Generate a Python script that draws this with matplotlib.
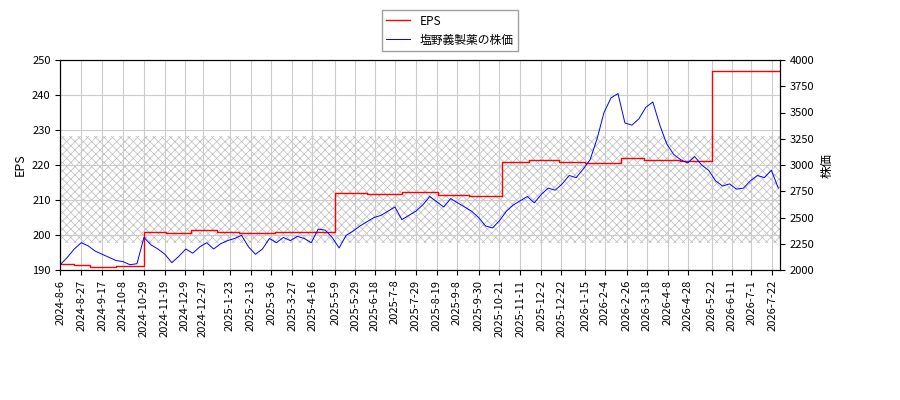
import matplotlib
matplotlib.use("Agg")
import matplotlib.pyplot as plt
import pandas as pd

plt.rcParams['font.family'] = ['Noto Sans CJK JP', 'DejaVu Sans']
plt.rcParams['hatch.linewidth'] = 0.5

eps_dates = ["2024-08-06","2024-08-20","2024-09-05","2024-10-01","2024-10-29","2024-11-20","2024-12-15","2025-01-10","2025-02-01","2025-03-10","2025-04-05","2025-05-09","2025-06-10","2025-07-15","2025-08-20","2025-09-20","2025-10-24","2025-11-20","2025-12-20","2026-01-15","2026-02-20","2026-03-15","2026-04-20","2026-05-22","2026-06-15","2026-07-30"]
eps_vals  = [191.8,191.5,191.0,191.2,201.0,200.5,201.5,201.0,200.5,200.8,201.0,212.0,211.8,212.2,211.5,211.2,221.0,221.3,221.0,220.7,222.0,221.5,221.2,247.0,246.8,247.2]

price_dates = pd.date_range("2024-08-06", "2026-07-30", freq="7D")
price_vals = [2050,2120,2200,2260,2230,2180,2150,2120,2090,2080,2050,2060,2310,2240,2200,2150,2070,2130,2200,2160,2220,2260,2200,2250,2280,2300,2330,2220,2150,2200,2300,2260,2310,2280,2320,2300,2260,2390,2380,2310,2210,2330,2370,2420,2460,2500,2520,2560,2600,2480,2520,2560,2620,2700,2650,2600,2680,2640,2600,2560,2500,2420,2400,2470,2560,2620,2660,2700,2640,2720,2780,2760,2820,2900,2880,2960,3050,3250,3500,3640,3680,3400,3380,3440,3550,3600,3380,3200,3100,3050,3020,3080,3000,2950,2850,2800,2820,2770,2780,2850,2900,2880,2950,2780]
price_vals = price_vals[:len(price_dates)]

tick_labels = ["2024-8-6","2024-8-27","2024-9-17","2024-10-8","2024-10-29","2024-11-19","2024-12-9","2024-12-27","2025-1-23","2025-2-13","2025-3-6","2025-3-27","2025-4-16","2025-5-9","2025-5-29","2025-6-18","2025-7-8","2025-7-29","2025-8-19","2025-9-8","2025-9-30","2025-10-21","2025-11-11","2025-12-2","2025-12-22","2026-1-15","2026-2-4","2026-2-26","2026-3-18","2026-4-8","2026-4-28","2026-5-22","2026-6-11","2026-7-1","2026-7-22"]

fig, ax = plt.subplots(figsize=(9, 4), dpi=100)
fig.subplots_adjust(left=0.067, right=0.867, top=0.85, bottom=0.325)
ed = pd.to_datetime(eps_dates)
l1, = ax.step(ed, eps_vals, where='post', color='red', lw=1, label='EPS')
ax.set_ylim(190, 250)
ax.set_ylabel('EPS', fontsize=9)
ax.axhspan(197.7, 228.3, facecolor='none', edgecolor='#bbbbbb', hatch='xxxx', lw=0)
ax.grid(True, color='#cccccc')
ax2 = ax.twinx()
l2, = ax2.plot(price_dates, price_vals, color='blue', lw=0.7, label='塩野義製薬の株価')
ax2.set_ylim(2000, 4000)
ax2.set_ylabel('株価', fontsize=9)
ax.set_xlim(pd.Timestamp("2024-08-06"), pd.Timestamp("2026-07-30"))
ticks = pd.to_datetime(tick_labels)
ax.set_xticks(ticks)
ax.set_xticklabels(tick_labels, rotation=90, fontsize=8)
ax.tick_params(labelsize=8); ax2.tick_params(labelsize=8)
fig.legend([l1, l2], ['EPS', '塩野義製薬の株価'], loc='upper center', bbox_to_anchor=(0.5, 0.99), fontsize=8.5, fancybox=False, edgecolor='#888888')
fig.savefig("out.png")
